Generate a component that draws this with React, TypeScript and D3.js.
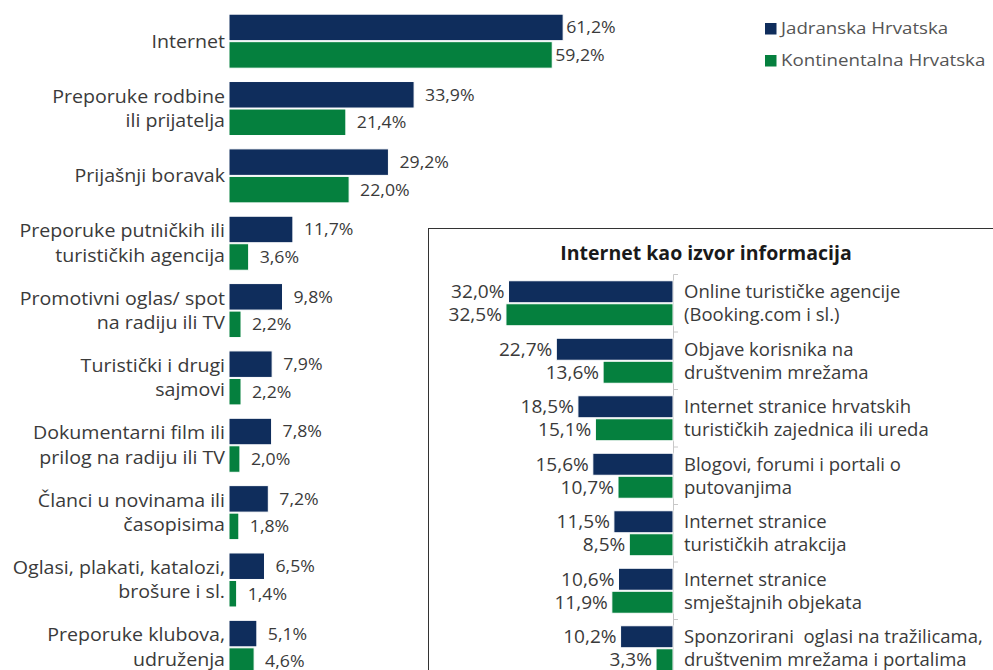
import React from "react";
import * as d3 from "d3";

const categories = [
  ["Internet"],
  ["Preporuke rodbine", "ili prijatelja"],
  ["Prijašnji boravak"],
  ["Preporuke putničkih ili", "turističkih agencija"],
  ["Promotivni oglas/ spot", "na radiju ili TV"],
  ["Turistički i drugi", "sajmovi"],
  ["Dokumentarni film ili", "prilog na radiju ili TV"],
  ["Članci u novinama ili", "časopisima"],
  ["Oglasi, plakati, katalozi,", "brošure i sl."],
  ["Preporuke klubova,", "udruženja"],
];
const jadranska = [61.2, 33.9, 29.2, 11.7, 9.8, 7.9, 7.8, 7.2, 6.5, 5.1];
const kontinentalna = [59.2, 21.4, 22.0, 3.6, 2.2, 2.2, 2.0, 1.8, 1.4, 4.6];

const insetTitle = "Internet kao izvor informacija";
const insetCategories = [
  ["Online turističke agencije", "(Booking.com i sl.)"],
  ["Objave korisnika na", "društvenim mrežama"],
  ["Internet stranice hrvatskih", "turističkih zajednica ili ureda"],
  ["Blogovi, forumi i portali o", "putovanjima"],
  ["Internet stranice", "turističkih atrakcija"],
  ["Internet stranice", "smještajnih objekata"],
  ["Sponzorirani  oglasi na tražilicama,", "društvenim mrežama i portalima"],
];
const insetJadranska = [32.0, 22.7, 18.5, 15.6, 11.5, 10.6, 10.2];
const insetKontinentalna = [32.5, 13.6, 15.1, 10.7, 8.5, 11.9, 3.3];

const seriesNames = ["Jadranska Hrvatska", "Kontinentalna Hrvatska"];
const NAVY = "#0f2d5c";
const GREEN = "#05803e";
const TEXT = "#3a3a3a";
const FONT = "'Open Sans', sans-serif";

const fmt = (v: number) => v.toFixed(1).replace(".", ",") + "%";

function T(props: { x: number; y: number; size: number; sx?: number; anchor?: string; fill?: string; weight?: string; children: React.ReactNode }) {
  const { x, y, size, sx = 1, anchor = "start", fill = TEXT, weight = "normal", children } = props;
  return (
    <g transform={`translate(${x},${y}) scale(${sx},1)`}>
      <text x={0} y={0} dy="0.35em" textAnchor={anchor} fontSize={size} fill={fill} fontWeight={weight} style={{ whiteSpace: "pre" }}>
        {children}
      </text>
    </g>
  );
}

export default function App() {
  const W = 993, H = 670;
  const x = d3.scaleLinear().domain([0, 100]).range([229, 775]);
  const y = d3.scaleBand<number>().domain(d3.range(categories.length)).range([7.5, 681]).padding(0);
  const barH = 26.5;

  const xi = d3.scaleLinear().domain([0, 100]).range([673, 673 - 514]);
  const yi = d3.scaleBand<number>().domain(d3.range(insetCategories.length)).range([274.5, 677]).padding(0);
  const ibarH = 22;

  const LBL = 18.5;
  const LSX = 1.06;
  const VAL = 17;
  const IVAL = 18;
  const IVSX = 1.06;
  const ILBL = 18.5;

  return (
    <svg width={W} height={H} style={{ position: "absolute", left: 0, top: 0, background: "#fff" }} fontFamily={FONT}>
      {/* main chart */}
      {categories.map((lines, i) => {
        const c = y(i)! + y.bandwidth() / 2;
        const vals = [jadranska[i], kontinentalna[i]];
        return (
          <g key={i}>
            {vals.map((v, s) => {
              const top = s === 0 ? c - barH - 0.5 : c + 0.5;
              return (
                <g key={s}>
                  <rect x={x(0)} y={top} width={x(v) - x(0)} height={barH} fill={s === 0 ? NAVY : GREEN} stroke="#fff" strokeWidth={1} />
                  <T x={x(v) + (v > 50 ? 3 : 11)} y={top + barH / 2} size={VAL} sx={1.04}>{fmt(v)}</T>
                </g>
              );
            })}
            {lines.length === 1 ? (
              <T x={225} y={c} size={LBL} sx={LSX} anchor="end">{lines[0]}</T>
            ) : (
              lines.map((l, k) => (
                <T key={k} x={225} y={c + (k === 0 ? -12.5 : 12)} size={LBL} sx={LSX} anchor="end">{l}</T>
              ))
            )}
          </g>
        );
      })}

      {/* legend */}
      {seriesNames.map((n, k) => (
        <g key={n}>
          <rect x={765} y={23 + k * 32} width={11.5} height={11.5} fill={k === 0 ? NAVY : GREEN} />
          <T x={781} y={28.5 + k * 32} size={17} sx={1.1} fill="#555">{n}</T>
        </g>
      ))}

      {/* inset */}
      <rect x={428.5} y={228.5} width={600} height={500} fill="#fff" stroke="#333" strokeWidth={1} />
      <T x={706} y={253} size={19.5} anchor="middle" weight="bold" fill="#1a1a1a">{insetTitle}</T>
      <line x1={673.5} x2={673.5} y1={yi(0)!} y2={H} stroke="#c8c8c8" />
      {insetCategories.map((_, i) => (
        <line key={i} x1={673.5} x2={678} y1={yi(i)!} y2={yi(i)!} stroke="#c8c8c8" />
      ))}
      {insetCategories.map((lines, i) => {
        const c = yi(i)! + yi.bandwidth() / 2;
        const vals = [insetJadranska[i], insetKontinentalna[i]];
        return (
          <g key={i}>
            {vals.map((v, s) => {
              const top = s === 0 ? c - ibarH - 0.5 : c + 0.5;
              return (
                <g key={s}>
                  <rect x={xi(v)} y={top} width={xi(0) - xi(v)} height={ibarH} fill={s === 0 ? NAVY : GREEN} stroke="#fff" strokeWidth={1} />
                  <T x={xi(v) - 4} y={top + ibarH / 2} size={IVAL} sx={IVSX} anchor="end">{fmt(v)}</T>
                </g>
              );
            })}
            {lines.map((l, k) => (
              <T key={k} x={684} y={c + (k === 0 ? -11.5 : 11.5)} size={ILBL}>{l}</T>
            ))}
          </g>
        );
      })}
    </svg>
  );
}
